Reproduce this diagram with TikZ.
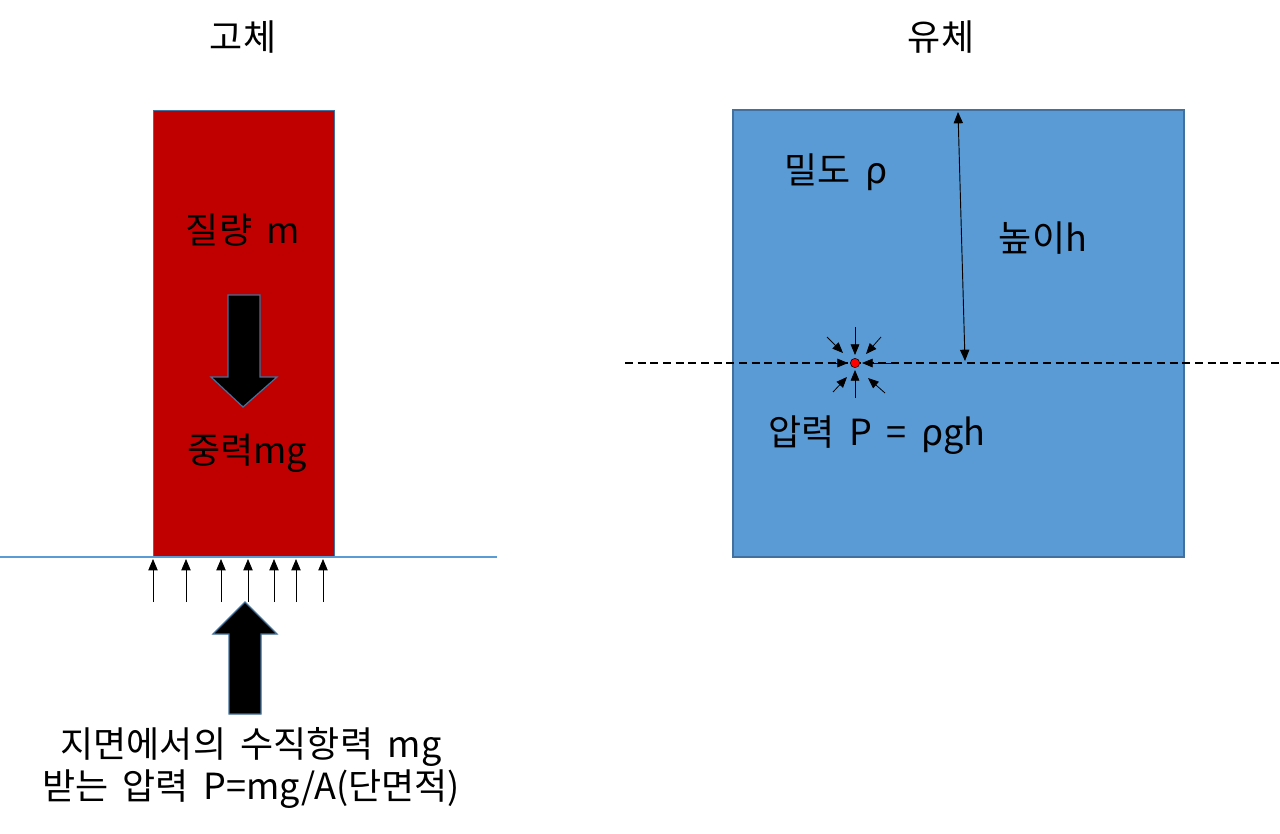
\documentclass[tikz,border=0pt]{standalone}
\usepackage{fontspec}
\setmainfont[WordSpace=1.8]{Noto Sans CJK KR}
\usetikzlibrary{arrows.meta}
\definecolor{solidred}{HTML}{C00000}
\definecolor{fluidblue}{HTML}{5B9BD5}
\definecolor{edgeblue}{HTML}{41719C}
\begin{document}
\begin{tikzpicture}[
    x=0.75pt, y=-0.75pt,
    txt/.style={font=\fontsize{27}{32}\selectfont, align=center, inner sep=0pt},
    blockarrow/.style={fill=black, draw=edgeblue, line width=0.9pt},
    normal/.style={-{Triangle[length=8.5pt, width=7pt]}, line width=0.6pt, black},
    squeeze/.style={-{Triangle[length=8pt, width=6.5pt]}, line width=0.6pt, black},
    height/.style={{Triangle[length=8.5pt, width=7pt]}-{Triangle[length=8.5pt, width=7pt]}, line width=0.7pt, black}
]
\useasboundingbox (0,0) rectangle (1280,833);

% solid
\node[txt] (soltitle) at (243,37) {고체};
\draw[fill=solidred, draw=edgeblue, line width=0.6pt] (153,110) rectangle (334,557);
\draw[fluidblue, line width=0.8pt] (0,557) -- (497,557);
\node[txt] (mass) at (243,230) {질량 m};
\draw[blockarrow] (228,295) -- (260,295) -- (260,377) -- (277,377) -- (243,407) -- (211,377) -- (228,377) -- cycle;
\node[txt] (gravity) at (247,453) {중력mg};
\foreach \x in {153,186,221,248,274,296,323}
    \draw[normal] (\x,602) -- (\x,559);
\draw[blockarrow] (229,714) -- (261,714) -- (261,634) -- (277,634) -- (245,602) -- (213,634) -- (229,634) -- cycle;
\node[txt] (normaltext) at (251,768) {지면에서의 수직항력 mg\\받는 압력 P=mg/A(단면적)};

% fluid
\node[txt] (fluidtitle) at (941,37) {유체};
\draw[fill=fluidblue, draw=edgeblue, line width=0.8pt] (733,110) rectangle (1184,557);
\draw[line width=0.9pt, dash pattern=on 6pt off 3.5pt] (625,363) -- (1280,363);
\coordinate (surface) at (958,112);
\coordinate (depth) at (965,361);
\draw[height] (surface) -- (depth);
\node[txt] (density) at (836,172) {밀도 ρ};
\node[txt] (heighttext) at (1043,238) {높이h};
\node[circle, fill=red, draw=black, line width=0.4pt, minimum size=7pt, inner sep=0pt] (point) at (855,363) {};
\draw[squeeze] (855,327) -- (855,355);
\draw[squeeze] (827,337) -- (843,353);
\draw[squeeze] (881,337) -- (866,354);
\draw[squeeze] (830,363) -- (848,363);
\draw[squeeze] (893,363) -- (862,363);
\draw[squeeze] (833,392) -- (847,377);
\draw[squeeze] (855,398) -- (855,370);
\draw[squeeze] (885,393) -- (868,378);
\node[txt] (pressure) at (877,435) {압력 P = ρgh};
\end{tikzpicture}
\end{document}
